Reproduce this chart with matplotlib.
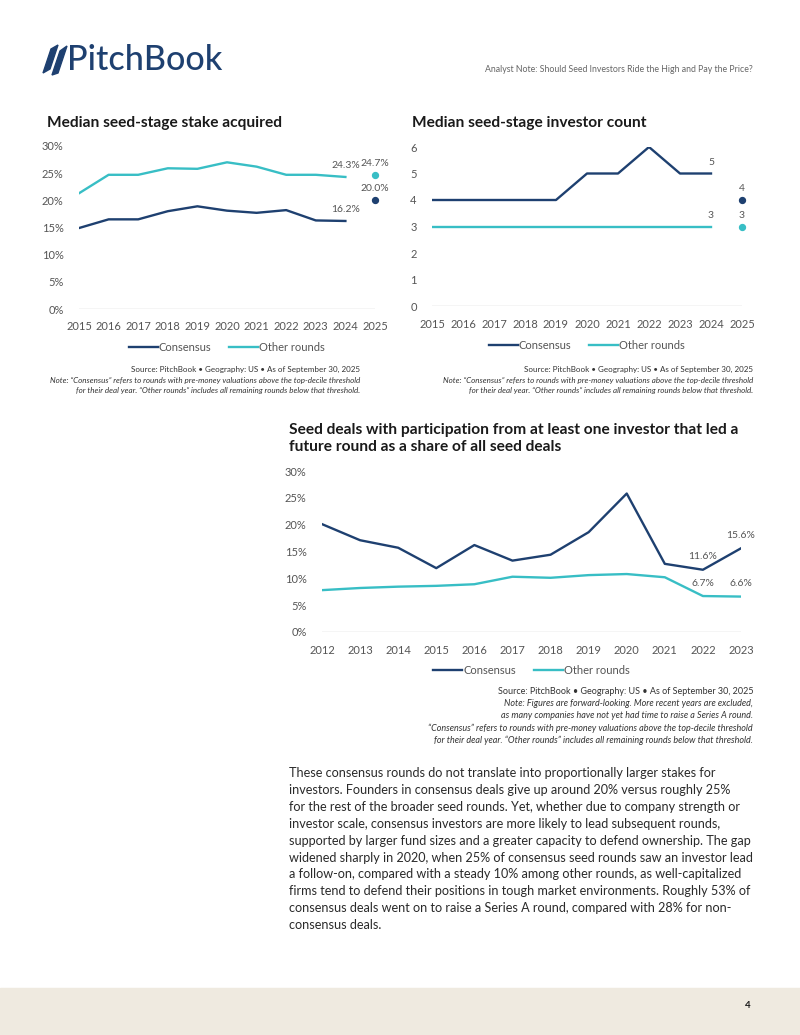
import matplotlib
matplotlib.use("Agg")
import matplotlib.pyplot as plt
from matplotlib.patches import Polygon, Rectangle

W, H = 800, 1035
NAVY = "#1e4070"
TEAL = "#38bec5"
GRAY = "#555555"
DARK = "#1a1a1a"
plt.rcParams['font.family'] = ['Lato', 'DejaVu Sans']

# ---- data ----
years1 = [2015, 2016, 2017, 2018, 2019, 2020, 2021, 2022, 2023, 2024]
stake_consensus = [14.9, 16.5, 16.5, 18.0, 18.9, 18.1, 17.7, 18.2, 16.3, 16.2]
stake_other = [21.3, 24.7, 24.7, 25.9, 25.8, 27.0, 26.2, 24.7, 24.7, 24.3]
stake_2025_consensus = 20.0
stake_2025_other = 24.7

count_consensus = [4, 4, 4, 4, 4, 5, 5, 6, 5, 5]
count_other = [3, 3, 3, 3, 3, 3, 3, 3, 3, 3]
count_2025_consensus = 4
count_2025_other = 3

years3 = [2012, 2013, 2014, 2015, 2016, 2017, 2018, 2019, 2020, 2021, 2022, 2023]
lead_consensus = [20.1, 17.1, 15.7, 11.9, 16.2, 13.3, 14.4, 18.6, 25.8, 12.7, 11.6, 15.6]
lead_other = [7.8, 8.2, 8.45, 8.6, 8.9, 10.3, 10.1, 10.6, 10.8, 10.2, 6.7, 6.6]

fig = plt.figure(figsize=(W / 100, H / 100), dpi=100)
fig.patch.set_facecolor("white")


def rect(x0, y0, x1, y1):
    return [x0 / W, 1 - y1 / H, (x1 - x0) / W, (y1 - y0) / H]


def ftext(x, y, s, **kw):
    fig.text(x / W, 1 - y / H, s, **kw)


def style_axes(ax, xlim, ylim, yticks, ylabels, xticks):
    ax.set_xlim(*xlim)
    ax.set_ylim(*ylim)
    for s in ax.spines.values():
        s.set_visible(False)
    ax.axhline(ylim[0], color="#cccccc", lw=1.0, zorder=0)
    ax.set_yticks(yticks)
    ax.set_yticklabels(ylabels)
    ax.set_xticks(xticks)
    ax.set_xticklabels([str(x) for x in xticks])
    ax.tick_params(length=0, labelsize=8, labelcolor=GRAY, pad=11)
    ax.tick_params(axis="x", pad=9)
    ax.patch.set_alpha(0)


def legend(ax, y):
    leg = ax.legend(loc="upper center", bbox_to_anchor=(0.5, y), ncol=2, frameon=False,
                    handlelength=2.6, handletextpad=0.1, columnspacing=1.6,
                    prop={"size": 8}, labelcolor=GRAY)
    return leg


lab = dict(ha="center", va="bottom", fontsize=7.5, color=GRAY)


def label(ax, x, y, s, dy=5):
    ax.annotate(s, (x, y), xytext=(0, dy), textcoords="offset points", **lab)


LW = 1.7

# ---- Chart 1 ----
ax1 = fig.add_axes(rect(79, 146, 375, 309))
ax1.plot(years1, stake_consensus, color=NAVY, lw=LW, label="Consensus")
ax1.plot(years1, stake_other, color=TEAL, lw=LW, label="Other rounds")
ax1.scatter([2025], [stake_2025_consensus], color=NAVY, s=18, zorder=3, clip_on=False)
ax1.scatter([2025], [stake_2025_other], color=TEAL, s=18, zorder=3, clip_on=False)
style_axes(ax1, (2015, 2025), (0, 30), [0, 5, 10, 15, 20, 25, 30],
           ["0%", "5%", "10%", "15%", "20%", "25%", "30%"], list(range(2015, 2026)))
label(ax1, years1[-1], stake_other[-1], f"{stake_other[-1]:.1f}%")
label(ax1, 2025, stake_2025_other, f"{stake_2025_other:.1f}%")
label(ax1, 2025, stake_2025_consensus, f"{stake_2025_consensus:.1f}%")
label(ax1, years1[-1], stake_consensus[-1], f"{stake_consensus[-1]:.1f}%")
legend(ax1, -0.14)

# ---- Chart 2 ----
ax2 = fig.add_axes(rect(432, 147, 742, 306))
ax2.plot(years1, count_consensus, color=NAVY, lw=LW, label="Consensus")
ax2.plot(years1, count_other, color=TEAL, lw=LW, label="Other rounds")
ax2.scatter([2025], [count_2025_consensus], color=NAVY, s=18, zorder=3, clip_on=False)
ax2.scatter([2025], [count_2025_other], color=TEAL, s=18, zorder=3, clip_on=False)
style_axes(ax2, (2015, 2025), (0, 6), [0, 1, 2, 3, 4, 5, 6],
           ["0", "1", "2", "3", "4", "5", "6"], list(range(2015, 2026)))
label(ax2, years1[-1], count_consensus[-1], f"{count_consensus[-1]}")
label(ax2, 2025, count_2025_consensus, f"{count_2025_consensus}")
label(ax2, years1[-1], count_other[-1], f"{count_other[-1]}")
label(ax2, 2025, count_2025_other, f"{count_2025_other}")
legend(ax2, -0.15)

# ---- Chart 3 ----
ax3 = fig.add_axes(rect(322, 471, 741, 632))
ax3.plot(years3, lead_consensus, color=NAVY, lw=LW, label="Consensus")
ax3.plot(years3, lead_other, color=TEAL, lw=LW, label="Other rounds")
style_axes(ax3, (2012, 2023), (0, 30), [0, 5, 10, 15, 20, 25, 30],
           ["0%", "5%", "10%", "15%", "20%", "25%", "30%"], years3)
for i in (-2, -1):
    label(ax3, years3[i], lead_consensus[i], f"{lead_consensus[i]:.1f}%", dy=6)
    label(ax3, years3[i], lead_other[i], f"{lead_other[i]:.1f}%", dy=6)
legend(ax3, -0.14)

# ---- Titles ----
tkw = dict(fontsize=11.2, fontweight="bold", color=DARK, ha="left", va="center")
ftext(47, 123, "Median seed-stage stake acquired", **tkw)
ftext(412, 123, "Median seed-stage investor count", **tkw)
ftext(289, 430, "Seed deals with participation from at least one investor that led a", **tkw)
ftext(289, 447, "future round as a share of all seed deals", **tkw)

# ---- Source notes ----
src = "Source: PitchBook \u2022 Geography: US \u2022 As of September 30, 2025"
note1 = "Note: \u201cConsensus\u201d refers to rounds with pre-money valuations above the top-decile threshold"
note2 = "for their deal year. \u201cOther rounds\u201d includes all remaining rounds below that threshold."
skw = dict(fontsize=5.8, color="#333333", ha="right", va="center")
for xr in (360, 753):
    ftext(xr, 369, src, **skw)
    ftext(xr, 380, note1, style="italic", **skw)
    ftext(xr, 391, note2, style="italic", **skw)
skw3 = dict(skw, fontsize=6.5)
ftext(753, 692, src, **skw3)
ftext(753, 704, "Note: Figures are forward-looking. More recent years are excluded,", style="italic", **skw3)
ftext(753, 716, "as many companies have not yet had time to raise a Series A round.", style="italic", **skw3)
ftext(753, 728, "\u201cConsensus\u201d refers to rounds with pre-money valuations above the top-decile threshold", style="italic", **skw3)
ftext(753, 740, note2, style="italic", **skw3)

# ---- Body text ----
body = [
    "These consensus rounds do not translate into proportionally larger stakes for",
    "investors. Founders in consensus deals give up around 20% versus roughly 25%",
    "for the rest of the broader seed rounds. Yet, whether due to company strength or",
    "investor scale, consensus investors are more likely to lead subsequent rounds,",
    "supported by larger fund sizes and a greater capacity to defend ownership. The gap",
    "widened sharply in 2020, when 25% of consensus seed rounds saw an investor lead",
    "a follow-on, compared with a steady 10% among other rounds, as well-capitalized",
    "firms tend to defend their positions in tough market environments. Roughly 53% of",
    "consensus deals went on to raise a Series A round, compared with 28% for non-",
    "consensus deals.",
]
for i, line in enumerate(body):
    ftext(289, 773 + i * 16.9, line, fontsize=9.1, color="#2a2a2a", ha="left", va="center")

# ---- Header ----
ftext(67, 60, "PitchBook", fontsize=24.5, color=NAVY, ha="left", va="center", fontweight="medium")
leaf1 = [(43, 73), (51, 49), (58, 45), (50, 69)]
leaf2 = [(52, 75), (60, 51), (67, 46), (58, 73)]
for pts in (leaf1, leaf2):
    fig.add_artist(Polygon([(x / W, 1 - y / H) for x, y in pts], closed=True,
                           transform=fig.transFigure, color=NAVY))
ftext(753, 70, "Analyst Note: Should Seed Investors Ride the High and Pay the Price?",
      fontsize=6.3, color="#666666", ha="right", va="center")

# ---- Footer ----
fig.add_artist(Rectangle((0, 0), 1, 47 / H, transform=fig.transFigure, color="#efeae0", zorder=-1))
ftext(748, 1005, "4", fontsize=7, fontweight="bold", color=DARK, ha="center", va="center")

fig.savefig("out.png", dpi=100)
